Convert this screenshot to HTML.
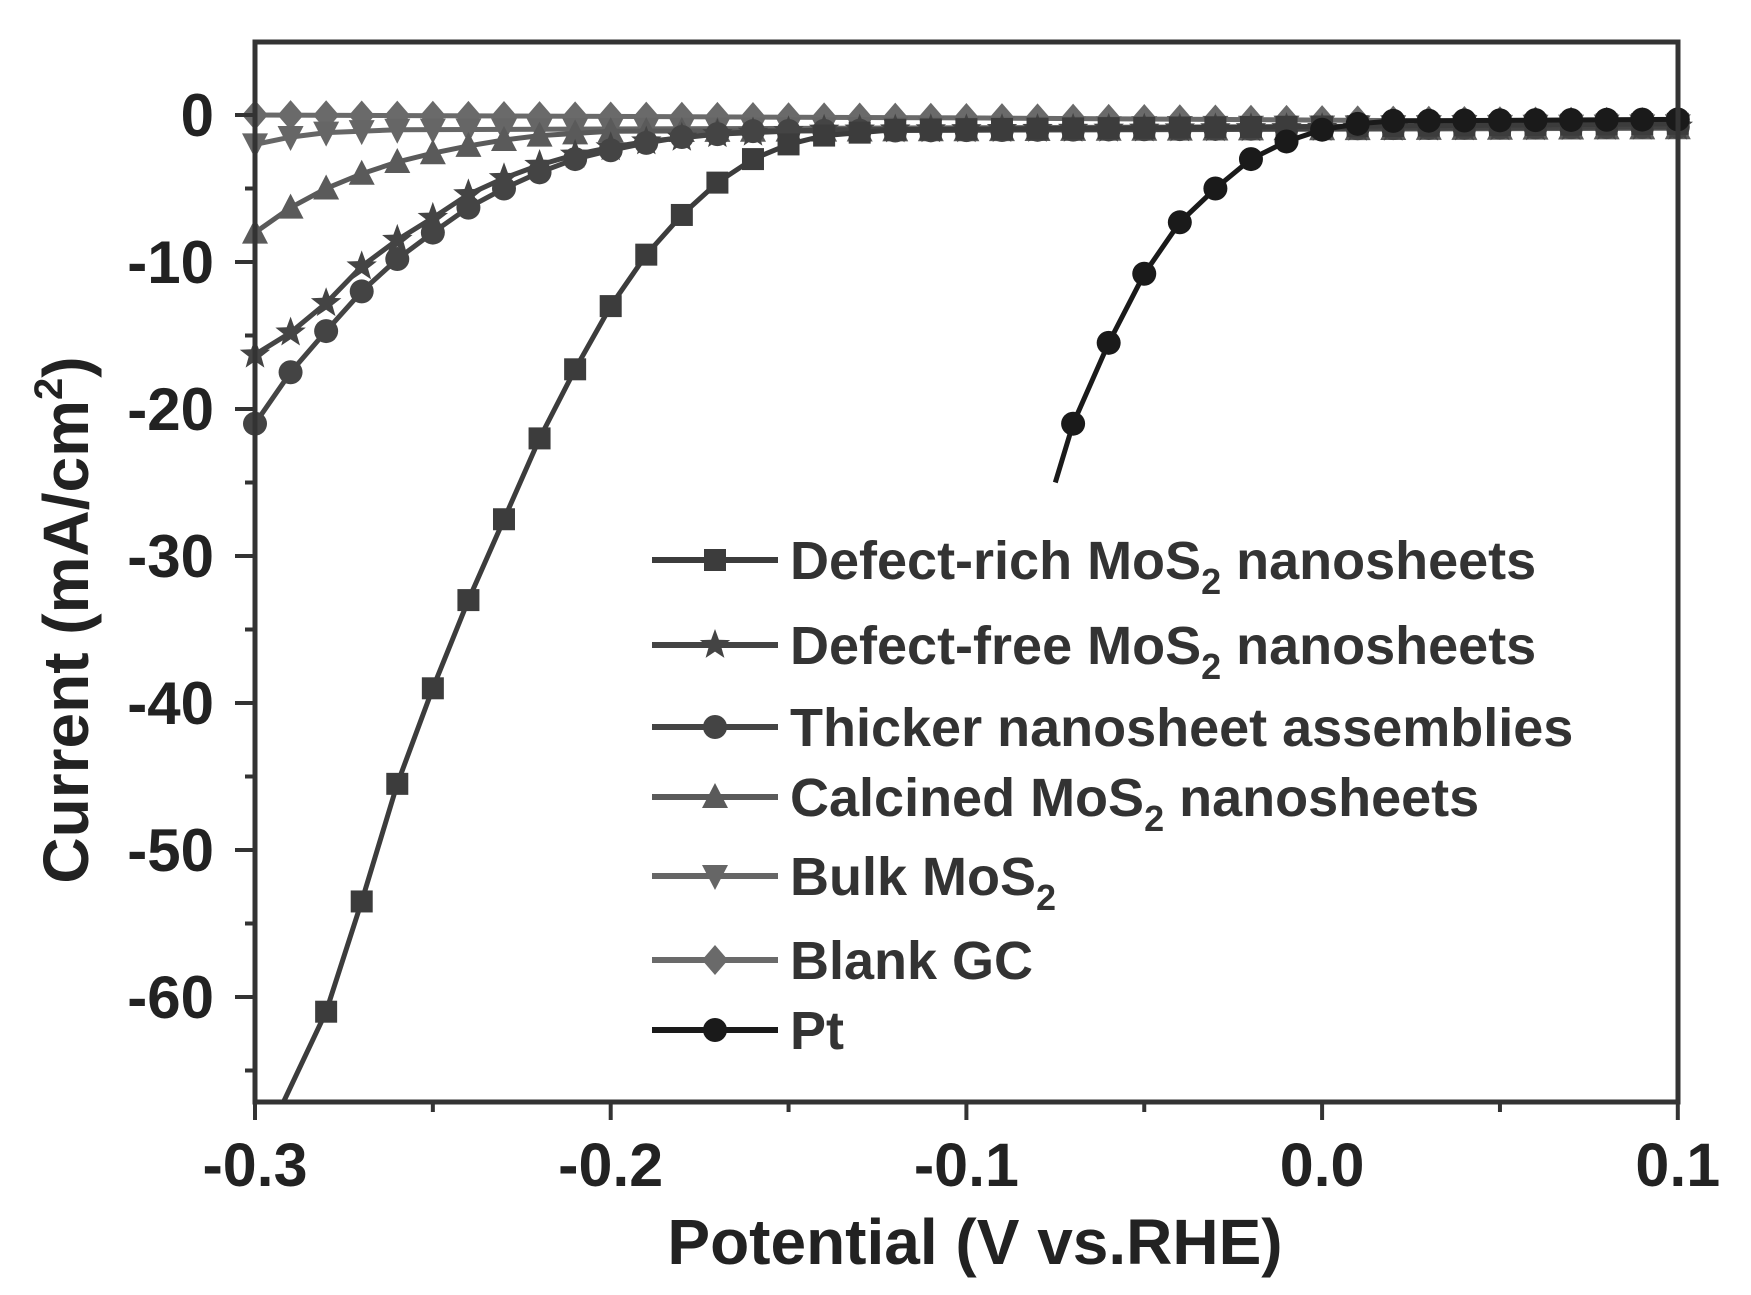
<!DOCTYPE html>
<html><head><meta charset="utf-8"><style>
html,body{margin:0;padding:0;background:#fff;}
svg{display:block;font-family:"Liberation Sans",Arial,sans-serif;font-weight:bold;}
</style></head><body>
<svg id="s" width="1751" height="1295" viewBox="0 0 1751 1295" xmlns="http://www.w3.org/2000/svg">
<rect width="1751" height="1295" fill="#fff"/>
<g id="plot"></g>
<rect x="255" y="42" width="1423" height="1060" fill="none" stroke="#333" stroke-width="5"/>
<g id="ticks" stroke="#333" stroke-width="4"></g>
<g font-size="60" fill="#222" text-anchor="end" id="ylab"></g>
<g font-size="61" fill="#222" text-anchor="middle" id="xlab"></g>
<text x="975" y="1264" font-size="64" fill="#222" text-anchor="middle">Potential (V vs.RHE)</text>
<text transform="translate(88,620) rotate(-90)" font-size="64" fill="#222" text-anchor="middle">Current (mA/cm<tspan font-size="40" dy="-26">2</tspan><tspan dy="26">)</tspan></text>
<g id="leg" font-size="54" fill="#333"></g>
</svg>
<script>
var X0=255,PX=3557,Y0=115,PY=14.7;
function mx(v){return X0+(v+0.3)*PX;}
function my(v){return Y0-v*PY;}
var ns="http://www.w3.org/2000/svg";
function el(p,t,a,txt){var e=document.createElementNS(ns,t);for(var k in a)e.setAttribute(k,a[k]);if(txt!=null)e.textContent=txt;document.getElementById(p).appendChild(e);return e;}
for(var i=0;i<=8;i++){var v=-0.3+i*0.05;var x=mx(v);var len=(i%2==0)?18:10;el('ticks','line',{x1:x,y1:1102,x2:x,y2:1102+len});}
for(var i=0;i<=8;i+=2){var v=-0.3+i*0.05;el('xlab','text',{x:mx(v),y:1186},v.toFixed(1));}
for(var yv=0;yv>=-65;yv-=5){var y=my(yv);var len=(yv%10==0)?20:10;el('ticks','line',{x1:255-len,y1:y,x2:255,y2:y});}
for(var yv=0;yv>=-60;yv-=10){el('ylab','text',{x:214,y:my(yv)+21},String(yv));}
function interp(pts,x){for(var i=0;i<pts.length-1;i++){if(x>=pts[i][0]-1e-9&&x<=pts[i+1][0]+1e-9){var t=(x-pts[i][0])/(pts[i+1][0]-pts[i][0]);return pts[i][1]+t*(pts[i+1][1]-pts[i][1]);}}return pts[pts.length-1][1];}
function marker(p,shape,x,y,c,s){
 s=s||11;
 if(shape=='sq')el(p,'rect',{x:x-s,y:y-s,width:2*s,height:2*s,fill:c});
 else if(shape=='ci')el(p,'circle',{cx:x,cy:y,r:s+1,fill:c});
 else if(shape=='tu')el(p,'polygon',{points:(x)+','+(y-s-3)+' '+(x+s+2)+','+(y+s)+' '+(x-s-2)+','+(y+s),fill:c});
 else if(shape=='td')el(p,'polygon',{points:(x)+','+(y+s+3)+' '+(x+s+2)+','+(y-s)+' '+(x-s-2)+','+(y-s),fill:c});
 else if(shape=='di')el(p,'polygon',{points:x+','+(y-s-4)+' '+(x+s+2)+','+y+' '+x+','+(y+s+4)+' '+(x-s-2)+','+y,fill:c});
 else if(shape=='st'){var pts=[];for(var k=0;k<10;k++){var r=(k%2==0)?s+5:s*0.6;var a=-Math.PI/2+k*Math.PI/5;pts.push((x+r*Math.cos(a)).toFixed(1)+','+(y+r*Math.sin(a)).toFixed(1));}el(p,'polygon',{points:pts.join(' '),fill:c});}
}
var series=[
 {n:'Blank GC',sh:'di',c:'#6a6a6a',pts:[[-0.3,0],[-0.1,-0.2],[0.1,-0.5]],x0:-0.3},
 {n:'Bulk MoS2',sh:'td',c:'#666',pts:[[-0.3,-2],[-0.29,-1.5],[-0.28,-1.2],[-0.26,-1.0],[0.1,-0.7]],x0:-0.3},
 {n:'Calcined',sh:'tu',c:'#5a5a5a',pts:[[-0.3,-8],[-0.29,-6.3],[-0.28,-5],[-0.27,-4],[-0.26,-3.2],[-0.25,-2.6],[-0.24,-2.1],[-0.23,-1.7],[-0.22,-1.4],[-0.2,-1.1],[0.1,-0.9]],x0:-0.3},
 {n:'Defect-free',sh:'st',c:'#444',pts:[[-0.3,-16.3],[-0.29,-14.8],[-0.28,-12.8],[-0.27,-10.3],[-0.26,-8.5],[-0.25,-7],[-0.24,-5.4],[-0.23,-4.3],[-0.22,-3.4],[-0.21,-2.7],[-0.2,-2.2],[-0.19,-1.8],[-0.17,-1.3],[-0.14,-1.0],[0.1,-0.8]],x0:-0.3},
 {n:'Thicker',sh:'ci',c:'#444',pts:[[-0.3,-21],[-0.29,-17.5],[-0.28,-14.7],[-0.27,-12],[-0.26,-9.8],[-0.25,-8],[-0.24,-6.3],[-0.23,-5],[-0.22,-3.9],[-0.21,-3],[-0.2,-2.4],[-0.19,-1.9],[-0.18,-1.5],[-0.16,-1.1],[0.1,-0.8]],x0:-0.3},
 {n:'Defect-rich',sh:'sq',c:'#3c3c3c',pts:[[-0.292,-68],[-0.28,-61],[-0.27,-53.5],[-0.26,-45.5],[-0.25,-39],[-0.24,-33],[-0.23,-27.5],[-0.22,-22],[-0.21,-17.3],[-0.2,-13],[-0.19,-9.5],[-0.18,-6.8],[-0.17,-4.6],[-0.16,-3],[-0.15,-2],[-0.14,-1.4],[-0.12,-1.0],[0.1,-0.6]],x0:-0.28},
 {n:'Pt',sh:'ci',c:'#1a1a1a',pts:[[-0.075,-25],[-0.07,-21],[-0.06,-15.5],[-0.05,-10.8],[-0.04,-7.3],[-0.03,-5],[-0.02,-3],[-0.01,-1.8],[0,-1],[0.01,-0.6],[0.02,-0.4],[0.1,-0.3]],x0:-0.07}
];
series.forEach(function(s){
 var d='';s.pts.forEach(function(p,i){var y=Math.min(my(p[1]),1102);d+=(i?'L':'M')+mx(p[0]).toFixed(1)+','+y.toFixed(1);});
 el('plot','path',{d:d,fill:'none',stroke:s.c,'stroke-width':5});
 for(var k=0;k<=40;k++){var x=-0.3+k*0.01;if(x<s.x0-1e-6)continue;var y=interp(s.pts,x);marker('plot',s.sh,mx(x),my(y),s.c);}
});
var leg=[['Defect-rich MoS','sq','#3c3c3c',' nanosheets',560],['Defect-free MoS','st','#444',' nanosheets',645],['Thicker nanosheet assemblies','ci','#444','',727],['Calcined MoS','tu','#5a5a5a',' nanosheets',797],['Bulk MoS','td','#666','',876],['Blank GC','di','#6a6a6a','',960],['Pt','ci','#1a1a1a','',1030]];
leg.forEach(function(l){
 el('leg','line',{x1:652,y1:l[4],x2:778,y2:l[4],stroke:l[2],'stroke-width':6});
 marker('leg',l[1],715,l[4],l[2]);
 var t=el('leg','text',{x:790,y:l[4]+19});
 t.appendChild(document.createTextNode(l[0]));
 if(l[0].slice(-3)=='MoS'){var ts=document.createElementNS(ns,'tspan');ts.setAttribute('font-size','36');ts.setAttribute('dy','15');ts.textContent='2';t.appendChild(ts);
  if(l[3]){var t2=document.createElementNS(ns,'tspan');t2.setAttribute('dy','-15');t2.textContent=l[3];t.appendChild(t2);}}
});
</script>
</body></html>
